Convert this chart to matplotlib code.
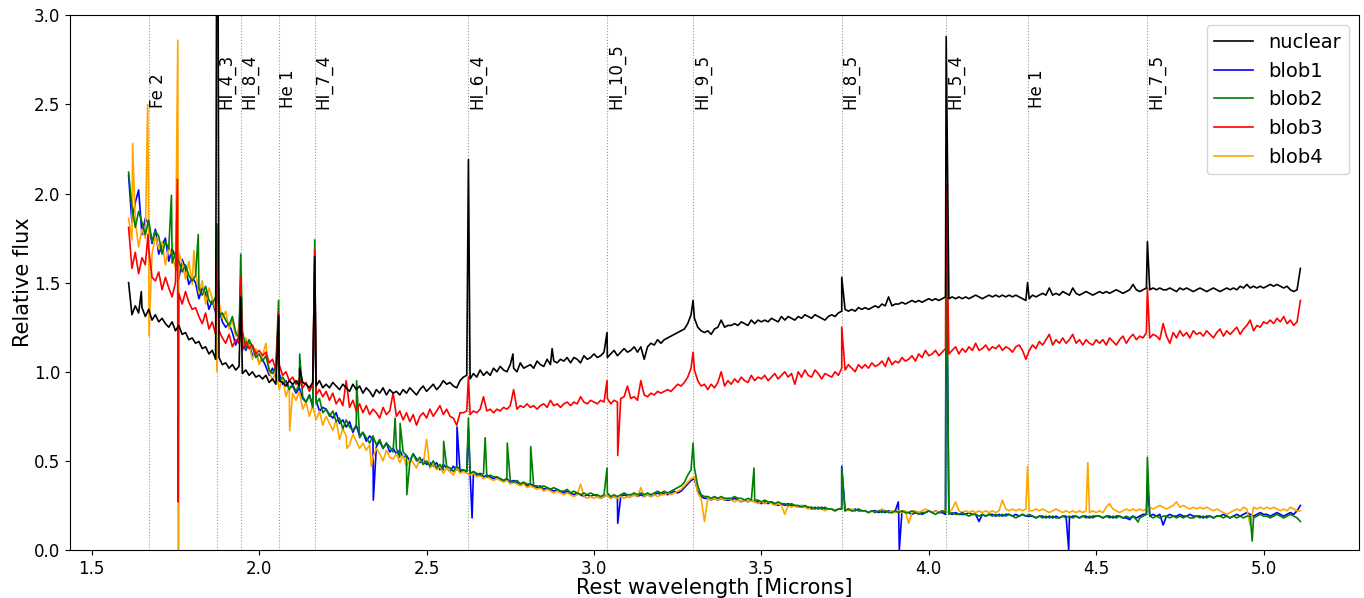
import numpy as np
import matplotlib
matplotlib.use("Agg")
import matplotlib.pyplot as plt

# Regular wavelength sampling of the extracted spectra (microns)
wave = np.linspace(1.61, 5.11, 351)

# Continuum fluxes on the regular grid, one row per 0.1 micron
nuclear = [
    1.50, 1.32, 1.37, 1.33, 1.36, 1.31, 1.35, 1.29, 1.32, 1.28,
    1.30, 1.27, 1.25, 1.28, 1.23, 1.26, 1.21, 1.22, 1.18, 1.19,
    1.16, 1.17, 1.13, 1.14, 1.10, 1.12, 1.07, 1.08, 1.04, 1.05,
    1.02, 1.04, 1.01, 1.03, 0.99, 1.01, 0.98, 1.00, 0.97, 0.98,
    0.96, 0.98, 0.94, 0.96, 0.93, 0.95, 0.94, 0.92, 0.95, 0.93,
    0.95, 0.92, 0.94, 0.93, 0.91, 0.94, 0.92, 0.95, 0.91, 0.93,
    0.91, 0.94, 0.92, 0.90, 0.93, 0.91, 0.89, 0.93, 0.90, 0.92,
    0.88, 0.91, 0.89, 0.86, 0.90, 0.88, 0.91, 0.87, 0.90, 0.88,
    0.89, 0.87, 0.90, 0.88, 0.91, 0.89, 0.87, 0.90, 0.92, 0.89,
    0.91, 0.93, 0.90, 0.92, 0.95, 0.93, 0.94, 0.92, 0.91, 0.95,
    0.97, 0.98, 0.96, 0.99, 0.97, 1.01, 0.98, 1.00, 0.98, 1.02,
    1.00, 1.03, 1.01, 1.00, 1.04, 1.02, 1.00, 1.05, 1.02, 1.03,
    1.04, 1.02, 1.06, 1.04, 1.03, 1.07, 1.04, 1.06, 1.05, 1.07,
    1.06, 1.08, 1.05, 1.08, 1.07, 1.05, 1.09, 1.07, 1.08, 1.10,
    1.08, 1.09, 1.11, 1.08, 1.10, 1.12, 1.09, 1.11, 1.13, 1.11,
    1.12, 1.14, 1.11, 1.14, 1.07, 1.14, 1.16, 1.15, 1.18, 1.16,
    1.18, 1.19, 1.20, 1.21, 1.22, 1.23, 1.24, 1.27, 1.32, 1.30,
    1.25, 1.23, 1.22, 1.23, 1.21, 1.24, 1.25, 1.29, 1.25, 1.26,
    1.26, 1.27, 1.26, 1.28, 1.27, 1.26, 1.29, 1.27, 1.29, 1.28,
    1.29, 1.28, 1.30, 1.29, 1.28, 1.31, 1.29, 1.31, 1.30, 1.29,
    1.31, 1.30, 1.32, 1.31, 1.30, 1.32, 1.31, 1.30, 1.29, 1.31,
    1.32, 1.31, 1.33, 1.34, 1.35, 1.34, 1.35, 1.34, 1.36, 1.35,
    1.36, 1.35, 1.36, 1.37, 1.36, 1.38, 1.37, 1.42, 1.37, 1.38,
    1.38, 1.39, 1.38, 1.39, 1.40, 1.39, 1.40, 1.39, 1.40, 1.41,
    1.40, 1.41, 1.40, 1.41, 1.42, 1.41, 1.42, 1.41, 1.42, 1.41,
    1.42, 1.41, 1.42, 1.43, 1.42, 1.41, 1.42, 1.43, 1.42, 1.43,
    1.42, 1.43, 1.42, 1.43, 1.42, 1.43, 1.42, 1.41, 1.40, 1.41,
    1.43, 1.42, 1.43, 1.44, 1.43, 1.47, 1.43, 1.44, 1.43, 1.45,
    1.44, 1.43, 1.47, 1.44, 1.43, 1.44, 1.45, 1.44, 1.43, 1.44,
    1.45, 1.44, 1.45, 1.44, 1.45, 1.46, 1.45, 1.44, 1.45, 1.46,
    1.49, 1.46, 1.45, 1.46, 1.47, 1.46, 1.47, 1.46, 1.47, 1.46,
    1.46, 1.47, 1.46, 1.45, 1.47, 1.46, 1.47, 1.46, 1.45, 1.46,
    1.47, 1.46, 1.45, 1.46, 1.47, 1.46, 1.45, 1.46, 1.47, 1.46,
    1.47, 1.46, 1.48, 1.47, 1.49, 1.47, 1.48, 1.47, 1.48, 1.47,
    1.48, 1.49, 1.48, 1.49, 1.48, 1.47, 1.48, 1.46, 1.45, 1.46,
    1.58]

blob1 = [
    2.10, 1.84, 1.95, 2.02, 1.77, 1.86, 1.83, 1.72, 1.80, 1.66,
    1.71, 1.75, 1.62, 1.69, 1.64, 1.52, 1.63, 1.58, 1.49, 1.53,
    1.50, 1.41, 1.47, 1.44, 1.35, 1.40, 1.33, 1.36, 1.28, 1.25,
    1.27, 1.22, 1.15, 1.20, 1.17, 1.12, 1.16, 1.09, 1.11, 1.05,
    1.07, 1.03, 0.98, 1.02, 0.97, 0.99, 0.93, 0.95, 0.91, 0.92,
    0.88, 0.91, 0.85, 0.83, 0.87, 0.81, 0.84, 0.78, 0.80, 0.79,
    0.76, 0.74, 0.77, 0.71, 0.73, 0.69, 0.72, 0.66, 0.70, 0.64,
    0.66, 0.61, 0.64, 0.62, 0.58, 0.61, 0.57, 0.60, 0.55, 0.57,
    0.54, 0.56, 0.52, 0.53, 0.50, 0.54, 0.51, 0.49, 0.51, 0.48,
    0.49, 0.47, 0.49, 0.45, 0.48, 0.46, 0.44, 0.47, 0.45, 0.44,
    0.45, 0.44, 0.43, 0.44, 0.42, 0.43, 0.41, 0.42, 0.41, 0.40,
    0.41, 0.40, 0.39, 0.40, 0.38, 0.39, 0.38, 0.37, 0.38, 0.36,
    0.37, 0.36, 0.35, 0.36, 0.34, 0.35, 0.34, 0.33, 0.34, 0.33,
    0.32, 0.33, 0.32, 0.31, 0.32, 0.31, 0.30, 0.31, 0.30, 0.31,
    0.30, 0.29, 0.30, 0.31, 0.29, 0.30, 0.29, 0.30, 0.31, 0.30,
    0.30, 0.31, 0.30, 0.31, 0.30, 0.31, 0.30, 0.31, 0.32, 0.31,
    0.32, 0.31, 0.32, 0.33, 0.32, 0.33, 0.35, 0.37, 0.39, 0.40,
    0.33, 0.30, 0.29, 0.29, 0.28, 0.29, 0.28, 0.29, 0.28, 0.28,
    0.28, 0.29, 0.28, 0.27, 0.28, 0.27, 0.28, 0.27, 0.27, 0.26,
    0.27, 0.26, 0.27, 0.26, 0.25, 0.26, 0.25, 0.26, 0.25, 0.25,
    0.24, 0.25, 0.24, 0.24, 0.23, 0.24, 0.23, 0.24, 0.23, 0.23,
    0.23, 0.22, 0.23, 0.23, 0.22, 0.23, 0.22, 0.23, 0.22, 0.22,
    0.22, 0.21, 0.22, 0.22, 0.21, 0.22, 0.21, 0.22, 0.21, 0.22,
    0.21, 0.22, 0.21, 0.21, 0.20, 0.21, 0.21, 0.20, 0.21, 0.22,
    0.21, 0.22, 0.21, 0.21, 0.20, 0.21, 0.20, 0.21, 0.20, 0.20,
    0.20, 0.21, 0.20, 0.20, 0.16, 0.20, 0.19, 0.20, 0.20, 0.19,
    0.20, 0.19, 0.20, 0.20, 0.19, 0.20, 0.19, 0.20, 0.19, 0.19,
    0.19, 0.18, 0.19, 0.19, 0.18, 0.19, 0.18, 0.19, 0.18, 0.19,
    0.19, 0.18, 0.19, 0.19, 0.18, 0.19, 0.19, 0.18, 0.19, 0.19,
    0.19, 0.18, 0.19, 0.19, 0.18, 0.19, 0.19, 0.18, 0.18, 0.17,
    0.19, 0.18, 0.19, 0.20, 0.20, 0.19, 0.20, 0.19, 0.20, 0.14,
    0.19, 0.20, 0.19, 0.19, 0.20, 0.19, 0.19, 0.20, 0.19, 0.19,
    0.19, 0.18, 0.19, 0.19, 0.18, 0.19, 0.19, 0.20, 0.19, 0.18,
    0.19, 0.20, 0.19, 0.20, 0.21, 0.20, 0.19, 0.20, 0.21, 0.20,
    0.20, 0.19, 0.20, 0.21, 0.20, 0.19, 0.20, 0.21, 0.20, 0.22,
    0.25]

blob2 = [
    2.12, 1.92, 1.81, 1.90, 1.84, 1.77, 1.85, 1.73, 1.79, 1.76,
    1.66, 1.73, 1.69, 1.61, 1.67, 1.62, 1.56, 1.60, 1.54, 1.51,
    1.54, 1.47, 1.43, 1.48, 1.40, 1.38, 1.42, 1.31, 1.33, 1.29,
    1.26, 1.31, 1.22, 1.19, 1.23, 1.13, 1.18, 1.14, 1.08, 1.10,
    1.06, 1.09, 1.01, 0.99, 1.03, 0.95, 0.97, 0.94, 0.90, 0.93,
    0.89, 0.93, 0.86, 0.83, 0.87, 0.80, 0.82, 0.85, 0.77, 0.79,
    0.75, 0.78, 0.72, 0.74, 0.68, 0.73, 0.69, 0.67, 0.70, 0.63,
    0.66, 0.63, 0.60, 0.64, 0.59, 0.62, 0.57, 0.60, 0.58, 0.55,
    0.57, 0.52, 0.55, 0.53, 0.49, 0.54, 0.50, 0.52, 0.48, 0.50,
    0.47, 0.50, 0.46, 0.48, 0.45, 0.47, 0.46, 0.44, 0.47, 0.45,
    0.45, 0.44, 0.43, 0.44, 0.43, 0.42, 0.43, 0.41, 0.42, 0.41,
    0.41, 0.40, 0.39, 0.40, 0.39, 0.38, 0.39, 0.37, 0.38, 0.37,
    0.37, 0.36, 0.36, 0.35, 0.36, 0.35, 0.34, 0.35, 0.34, 0.33,
    0.33, 0.34, 0.32, 0.33, 0.32, 0.31, 0.32, 0.31, 0.32, 0.31,
    0.31, 0.30, 0.31, 0.32, 0.30, 0.31, 0.30, 0.31, 0.32, 0.31,
    0.31, 0.32, 0.31, 0.32, 0.31, 0.32, 0.31, 0.32, 0.33, 0.32,
    0.33, 0.32, 0.33, 0.34, 0.35, 0.36, 0.38, 0.42, 0.45, 0.46,
    0.36, 0.31, 0.30, 0.30, 0.29, 0.30, 0.29, 0.30, 0.29, 0.29,
    0.29, 0.30, 0.29, 0.29, 0.28, 0.29, 0.28, 0.28, 0.28, 0.27,
    0.28, 0.27, 0.27, 0.26, 0.27, 0.26, 0.26, 0.25, 0.26, 0.25,
    0.25, 0.24, 0.25, 0.24, 0.24, 0.23, 0.24, 0.23, 0.24, 0.23,
    0.23, 0.22, 0.23, 0.23, 0.22, 0.23, 0.22, 0.22, 0.23, 0.22,
    0.22, 0.21, 0.22, 0.21, 0.22, 0.21, 0.22, 0.21, 0.21, 0.22,
    0.21, 0.22, 0.21, 0.21, 0.22, 0.21, 0.20, 0.21, 0.21, 0.22,
    0.21, 0.20, 0.21, 0.22, 0.21, 0.20, 0.21, 0.20, 0.20, 0.21,
    0.20, 0.19, 0.20, 0.20, 0.19, 0.20, 0.19, 0.20, 0.19, 0.20,
    0.19, 0.20, 0.19, 0.20, 0.19, 0.18, 0.19, 0.20, 0.19, 0.20,
    0.19, 0.18, 0.19, 0.18, 0.19, 0.18, 0.19, 0.18, 0.18, 0.19,
    0.18, 0.19, 0.18, 0.19, 0.18, 0.19, 0.18, 0.19, 0.18, 0.19,
    0.19, 0.18, 0.19, 0.18, 0.19, 0.18, 0.19, 0.18, 0.19, 0.18,
    0.19, 0.17, 0.18, 0.19, 0.20, 0.19, 0.18, 0.19, 0.18, 0.19,
    0.19, 0.18, 0.19, 0.18, 0.19, 0.18, 0.19, 0.18, 0.18, 0.19,
    0.18, 0.19, 0.18, 0.19, 0.18, 0.19, 0.19, 0.18, 0.19, 0.18,
    0.19, 0.18, 0.19, 0.18, 0.19, 0.19, 0.18, 0.19, 0.20, 0.19,
    0.19, 0.18, 0.19, 0.20, 0.19, 0.18, 0.19, 0.20, 0.19, 0.18,
    0.16]

blob3 = [
    1.81, 1.58, 1.67, 1.55, 1.64, 1.60, 1.69, 1.53, 1.51, 1.56,
    1.46, 1.53, 1.47, 1.42, 1.50, 1.44, 1.38, 1.45, 1.39, 1.35,
    1.36, 1.31, 1.27, 1.33, 1.24, 1.28, 1.21, 1.23, 1.19, 1.16,
    1.21, 1.14, 1.18, 1.16, 1.12, 1.17, 1.13, 1.15, 1.10, 1.12,
    1.09, 1.11, 1.05, 1.07, 1.01, 1.04, 0.98, 1.00, 0.95, 0.97,
    0.93, 0.96, 0.91, 0.94, 0.89, 0.93, 0.87, 0.90, 0.86, 0.89,
    0.84, 0.88, 0.82, 0.85, 0.81, 0.95, 0.80, 0.84, 0.78, 0.82,
    0.77, 0.81, 0.76, 0.79, 0.77, 0.74, 0.80, 0.76, 0.78, 0.88,
    0.75, 0.78, 0.73, 0.77, 0.72, 0.76, 0.70, 0.75, 0.77, 0.74,
    0.79, 0.75, 0.78, 0.81, 0.76, 0.79, 0.75, 0.74, 0.70, 0.77,
    0.77, 0.78, 0.76, 0.78, 0.77, 0.79, 0.86, 0.78, 0.79, 0.77,
    0.79, 0.78, 0.80, 0.79, 0.81, 0.90, 0.79, 0.81, 0.80, 0.82,
    0.80, 0.81, 0.79, 0.81, 0.82, 0.80, 0.84, 0.81, 0.82, 0.80,
    0.82, 0.83, 0.81, 0.83, 0.82, 0.86, 0.83, 0.82, 0.84, 0.83,
    0.82, 0.84, 0.83, 0.85, 0.82, 0.84, 0.83, 0.85, 0.86, 0.92,
    0.85, 0.86, 0.84, 0.95, 0.87, 0.86, 0.88, 0.87, 0.89, 0.88,
    0.89, 0.90, 0.89, 0.91, 0.93, 0.92, 0.94, 0.97, 1.02, 1.01,
    0.95, 0.92, 0.93, 0.90, 0.93, 0.91, 0.94, 1.00, 0.92, 0.95,
    0.93, 0.96, 0.94, 0.97, 0.95, 0.94, 0.98, 0.95, 0.97, 0.96,
    0.98, 0.95, 0.97, 0.99, 0.96, 0.98, 1.00, 0.97, 0.99, 0.93,
    1.00, 0.97, 1.01, 0.98, 0.97, 1.01, 0.99, 0.96, 0.99, 0.98,
    0.97, 1.00, 0.98, 1.02, 1.01, 1.04, 1.02, 1.00, 1.04, 1.02,
    1.04, 1.02, 1.05, 1.03, 1.04, 1.06, 1.03, 1.08, 1.04, 1.06,
    1.05, 1.08, 1.06, 1.07, 1.09, 1.06, 1.10, 1.08, 1.12, 1.09,
    1.10, 1.12, 1.09, 1.11, 1.13, 1.10, 1.12, 1.14, 1.10, 1.13,
    1.11, 1.14, 1.12, 1.16, 1.12, 1.13, 1.15, 1.12, 1.14, 1.13,
    1.15, 1.12, 1.14, 1.13, 1.11, 1.14, 1.15, 1.12, 1.07, 1.12,
    1.15, 1.13, 1.17, 1.15, 1.18, 1.21, 1.15, 1.18, 1.16, 1.19,
    1.16, 1.18, 1.21, 1.16, 1.18, 1.15, 1.18, 1.16, 1.15, 1.18,
    1.16, 1.18, 1.15, 1.19, 1.17, 1.15, 1.18, 1.20, 1.16, 1.19,
    1.21, 1.18, 1.20, 1.19, 1.22, 1.19, 1.21, 1.20, 1.18, 1.27,
    1.20, 1.16, 1.22, 1.19, 1.23, 1.20, 1.22, 1.19, 1.23, 1.21,
    1.22, 1.20, 1.23, 1.21, 1.19, 1.22, 1.24, 1.20, 1.23, 1.21,
    1.23, 1.25, 1.21, 1.24, 1.26, 1.29, 1.23, 1.26, 1.25, 1.28,
    1.27, 1.29, 1.27, 1.30, 1.28, 1.31, 1.27, 1.29, 1.26, 1.28,
    1.40]

blob4 = [
    1.86, 1.74, 1.84, 1.70, 1.80, 1.75, 1.79, 1.66, 1.76, 1.69,
    1.73, 1.60, 1.70, 1.65, 1.58, 1.67, 1.61, 1.52, 1.62, 1.49,
    1.56, 1.44, 1.51, 1.38, 1.47, 1.41, 1.35, 1.39, 1.30, 1.34,
    1.24, 1.29, 1.20, 1.25, 1.13, 1.19, 1.15, 1.07, 1.13, 1.04,
    1.09, 1.16, 1.00, 0.95, 1.01, 0.90, 0.97, 0.86, 0.92, 0.88,
    0.84, 0.89, 0.79, 0.83, 0.75, 0.81, 0.73, 0.78, 0.70, 0.75,
    0.71, 0.67, 0.73, 0.62, 0.68, 0.64, 0.59, 0.65, 0.61, 0.57,
    0.60, 0.56, 0.59, 0.52, 0.57, 0.54, 0.50, 0.56, 0.52, 0.51,
    0.54, 0.49, 0.53, 0.47, 0.51, 0.49, 0.46, 0.51, 0.48, 0.62,
    0.46, 0.48, 0.45, 0.47, 0.43, 0.46, 0.44, 0.42, 0.46, 0.43,
    0.44, 0.43, 0.42, 0.43, 0.41, 0.42, 0.40, 0.41, 0.40, 0.39,
    0.40, 0.39, 0.38, 0.39, 0.37, 0.38, 0.37, 0.36, 0.37, 0.35,
    0.36, 0.35, 0.34, 0.35, 0.33, 0.34, 0.33, 0.32, 0.33, 0.32,
    0.31, 0.32, 0.31, 0.30, 0.31, 0.37, 0.30, 0.29, 0.30, 0.29,
    0.30, 0.29, 0.30, 0.31, 0.29, 0.30, 0.29, 0.30, 0.29, 0.30,
    0.30, 0.31, 0.30, 0.35, 0.30, 0.31, 0.30, 0.31, 0.30, 0.31,
    0.31, 0.32, 0.31, 0.32, 0.33, 0.34, 0.36, 0.38, 0.40, 0.41,
    0.32, 0.29, 0.16, 0.29, 0.28, 0.29, 0.28, 0.29, 0.28, 0.29,
    0.28, 0.27, 0.28, 0.27, 0.28, 0.27, 0.28, 0.27, 0.26, 0.27,
    0.26, 0.27, 0.26, 0.25, 0.26, 0.25, 0.20, 0.25, 0.24, 0.25,
    0.24, 0.25, 0.24, 0.23, 0.24, 0.23, 0.24, 0.23, 0.22, 0.23,
    0.23, 0.22, 0.23, 0.24, 0.23, 0.22, 0.23, 0.22, 0.23, 0.22,
    0.22, 0.21, 0.22, 0.21, 0.22, 0.23, 0.22, 0.21, 0.22, 0.21,
    0.22, 0.21, 0.22, 0.15, 0.21, 0.22, 0.21, 0.22, 0.23, 0.22,
    0.21, 0.22, 0.21, 0.22, 0.22, 0.21, 0.23, 0.27, 0.22, 0.21,
    0.22, 0.21, 0.22, 0.21, 0.22, 0.21, 0.22, 0.21, 0.22, 0.21,
    0.22, 0.28, 0.23, 0.22, 0.23, 0.22, 0.23, 0.22, 0.23, 0.22,
    0.22, 0.23, 0.22, 0.23, 0.22, 0.21, 0.22, 0.23, 0.22, 0.21,
    0.22, 0.21, 0.22, 0.21, 0.22, 0.21, 0.22, 0.21, 0.22, 0.21,
    0.22, 0.21, 0.24, 0.26, 0.23, 0.22, 0.21, 0.22, 0.23, 0.22,
    0.23, 0.22, 0.23, 0.22, 0.23, 0.24, 0.23, 0.24, 0.25, 0.24,
    0.23, 0.24, 0.25, 0.27, 0.24, 0.25, 0.24, 0.23, 0.24, 0.23,
    0.24, 0.23, 0.24, 0.23, 0.22, 0.23, 0.22, 0.21, 0.20, 0.21,
    0.22, 0.23, 0.22, 0.24, 0.23, 0.14, 0.24, 0.23, 0.24, 0.23,
    0.24, 0.23, 0.24, 0.23, 0.22, 0.23, 0.22, 0.24, 0.23, 0.22,
    0.22]

# Narrow emission / absorption features between grid samples: (wavelength, flux)
nuclear_lines = [(1.648, 1.45), (1.873, 3.40), (1.877, 3.40), (1.945, 1.42),
                 (2.058, 1.315), (2.121, 1.02), (2.166, 1.645), (2.625, 2.19),
                 (2.758, 1.10), (2.875, 1.13), (3.039, 1.22), (3.296, 1.40),
                 (3.740, 1.53), (4.052, 2.88), (4.295, 1.50), (4.653, 1.73)]
blob1_lines = [(1.874, 1.75), (1.945, 1.50), (2.058, 1.30), (2.166, 1.62),
               (2.341, 0.28), (2.591, 0.69), (2.625, 0.68), (2.636, 0.18),
               (3.071, 0.15), (3.740, 0.47), (3.909, 0.27), (3.912, 0.00),
               (4.052, 1.80), (4.418, 0.00), (4.653, 0.38)]
blob2_lines = [(1.738, 1.99), (1.818, 1.77), (1.874, 1.83), (1.945, 1.66),
               (2.058, 1.40), (2.121, 1.10), (2.166, 1.74), (2.291, 0.95),
               (2.406, 0.74), (2.421, 0.71), (2.441, 0.31), (2.551, 0.61),
               (2.625, 0.74), (2.675, 0.63), (2.741, 0.60), (2.811, 0.58),
               (3.039, 0.46), (3.296, 0.60), (3.478, 0.46), (3.740, 0.46),
               (4.052, 2.02), (4.625, 0.157), (4.653, 0.52), (4.966, 0.05)]
blob3_lines = [(1.668, 1.77), (1.756, 2.08), (1.758, 0.27), (1.874, 1.62),
               (1.945, 1.53), (2.058, 1.33), (2.166, 1.68), (2.625, 0.97),
               (3.039, 0.95), (3.071, 0.53), (3.296, 1.11), (3.740, 1.25),
               (4.052, 2.05), (4.653, 1.47)]
blob4_lines = [(1.622, 2.28), (1.667, 2.50), (1.671, 1.20), (1.757, 2.86),
               (1.759, 0.00), (1.805, 1.68), (1.874, 1.00), (2.091, 0.67),
               (2.262, 0.57), (2.335, 0.47), (4.295, 0.47), (4.475, 0.49)]

# Line identifications marked on the plot
line_names = ["Fe 2", "HI_4_3", "HI_8_4", "He 1", "HI_7_4", "HI_6_4",
              "HI_10_5", "HI_9_5", "HI_8_5", "HI_5_4", "He 1", "HI_7_5"]
line_waves = [1.671, 1.875, 1.945, 2.058, 2.166, 2.625,
              3.039, 3.296, 3.740, 4.052, 4.295, 4.653]

series = [
    ("nuclear", nuclear, nuclear_lines, "black", 5),
    ("blob1", blob1, blob1_lines, "blue", 2),
    ("blob2", blob2, blob2_lines, "green", 3),
    ("blob3", blob3, blob3_lines, "red", 4),
    ("blob4", blob4, blob4_lines, "orange", 2.5),
]


def merged_spectrum(flux, features):
    lam = np.concatenate([wave, [f[0] for f in features]])
    val = np.concatenate([np.asarray(flux, float), [f[1] for f in features]])
    order = np.argsort(lam, kind="stable")
    return lam[order], val[order]


fig = plt.figure(figsize=(13.64, 5.98), dpi=100)
ax = fig.add_axes([70 / 1364, 48 / 598, 1289 / 1364, 534.7 / 598])

for name, flux, feats, color, z in series:
    lam, val = merged_spectrum(flux, feats)
    ax.plot(lam, val, color=color, lw=1.2, label=name, zorder=z)

for name, lw in zip(line_names, line_waves):
    ax.axvline(lw, color="0.6", ls=":", lw=0.8, zorder=1)
    ax.text(lw, 2.5, name, rotation=90, fontsize=12)

ax.set_ylim(0, 3.0)
ax.set_xlabel("Rest wavelength [Microns]", fontsize=15, labelpad=0.5)
ax.set_ylabel("Relative flux", fontsize=15, labelpad=1)
ax.tick_params(labelsize=12)
ax.legend(loc="upper right", fontsize=14)

fig.savefig("out.png", dpi=100)
